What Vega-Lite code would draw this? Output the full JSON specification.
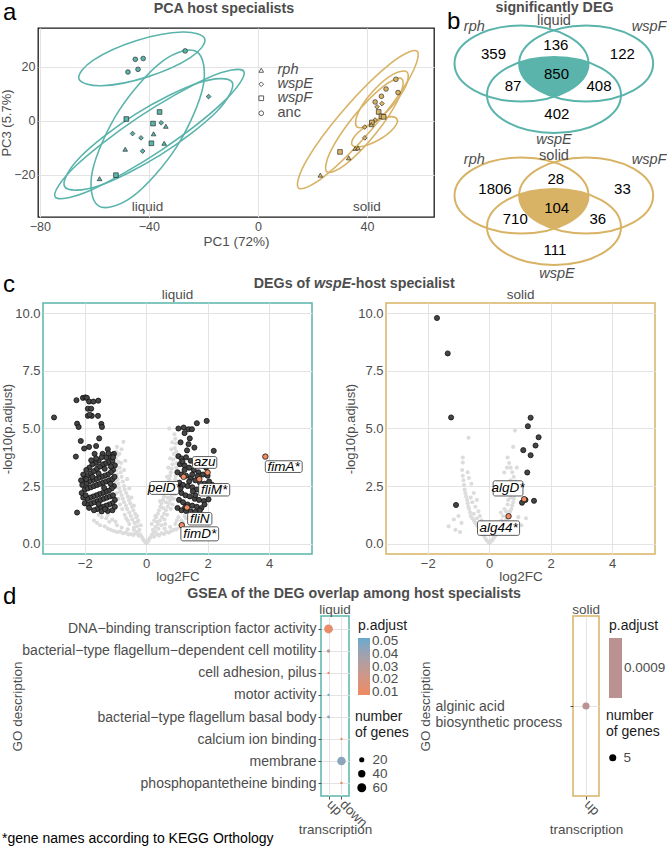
{
"$schema": "https://vega.github.io/schema/vega-lite/v6.json",
"padding": 0,
"autosize": {"type": "pad"},
"background": "white",
"config": {
 "font": "Liberation Sans",
 "view": {"stroke": null},
 "axis": {"labelColor": "#4d4d4d", "titleColor": "#4d4d4d", "labelFontSize": 12.5, "titleFontSize": 13.5, "titleFontWeight": "normal", "gridColor": "#e3e3e3", "gridWidth": 1, "domain": false, "ticks": false, "labelPadding": 3, "titlePadding": 4, "labelFlush": false, "labelOverlap": false},
 "legend": {"titleFontWeight": "normal", "titleFontSize": 14, "titleColor": "#1a1a1a", "labelFontSize": 13.5, "labelColor": "#4d4d4d", "labelOverlap": false},
 "title": {"fontSize": 14.25, "fontWeight": "bold", "color": "#4d4d4d"}
},
"datasets": {
 "pca": [
  {"medium":"liquid","group":"anc","PC1":-47.7,"PC3":18.1},{"medium":"liquid","group":"anc","PC1":-45.0,"PC3":22.8},{"medium":"liquid","group":"anc","PC1":-42.1,"PC3":23.1},{"medium":"liquid","group":"anc","PC1":-44.0,"PC3":19.1},{"medium":"liquid","group":"anc","PC1":-26.7,"PC3":25.9},
  {"medium":"liquid","group":"wspE","PC1":-18.1,"PC3":9.0},{"medium":"liquid","group":"wspE","PC1":-35.5,"PC3":-0.7},{"medium":"liquid","group":"wspE","PC1":-46.0,"PC3":-4.7},{"medium":"liquid","group":"wspE","PC1":-42.9,"PC3":-6.3},{"medium":"liquid","group":"wspE","PC1":-42.3,"PC3":-11.2},
  {"medium":"liquid","group":"wspF","PC1":-48.3,"PC3":0.7},{"medium":"liquid","group":"wspF","PC1":-36.1,"PC3":3.3},{"medium":"liquid","group":"wspF","PC1":-38.5,"PC3":-1.0},{"medium":"liquid","group":"wspF","PC1":-39.1,"PC3":-8.3},{"medium":"liquid","group":"wspF","PC1":-52.1,"PC3":-20.1},
  {"medium":"liquid","group":"rph","PC1":-38.3,"PC3":-4.8},{"medium":"liquid","group":"rph","PC1":-33.8,"PC3":-2.0},{"medium":"liquid","group":"rph","PC1":-34.4,"PC3":-8.3},{"medium":"liquid","group":"rph","PC1":-48.7,"PC3":-10.5},{"medium":"liquid","group":"rph","PC1":-58.1,"PC3":-21.4},
  {"medium":"solid","group":"anc","PC1":50.6,"PC3":15.4},{"medium":"solid","group":"anc","PC1":51.4,"PC3":10.5},{"medium":"solid","group":"anc","PC1":45.3,"PC3":9.1},{"medium":"solid","group":"anc","PC1":47.0,"PC3":11.8},{"medium":"solid","group":"anc","PC1":43.0,"PC3":7.0},
  {"medium":"solid","group":"wspE","PC1":45.5,"PC3":6.4},{"medium":"solid","group":"wspE","PC1":43.7,"PC3":5.2},{"medium":"solid","group":"wspE","PC1":43.0,"PC3":0.3},{"medium":"solid","group":"wspE","PC1":39.2,"PC3":-2.3},{"medium":"solid","group":"wspE","PC1":39.2,"PC3":-6.3},
  {"medium":"solid","group":"wspF","PC1":44.3,"PC3":3.3},{"medium":"solid","group":"wspF","PC1":45.3,"PC3":1.7},{"medium":"solid","group":"wspF","PC1":46.1,"PC3":1.5},{"medium":"solid","group":"wspF","PC1":41.8,"PC3":-0.6},{"medium":"solid","group":"wspF","PC1":30.1,"PC3":-11.5},
  {"medium":"solid","group":"rph","PC1":22.9,"PC3":-20.1},{"medium":"solid","group":"rph","PC1":33.3,"PC3":-13.7},{"medium":"solid","group":"rph","PC1":35.7,"PC3":-10.2},{"medium":"solid","group":"rph","PC1":36.7,"PC3":-10.0},{"medium":"solid","group":"rph","PC1":41.6,"PC3":-1.4}
 ],
 "pcaell": [
  {"medium":"liquid","e":"A","i":0,"x":-19.5,"y":30.3},{"medium":"liquid","e":"A","i":1,"x":-24.8,"y":23.4},{"medium":"liquid","e":"A","i":2,"x":-40.5,"y":16.3},{"medium":"liquid","e":"A","i":3,"x":-57.4,"y":13.0},{"medium":"liquid","e":"A","i":4,"x":-65.7,"y":15.6},{"medium":"liquid","e":"A","i":5,"x":-60.4,"y":22.5},{"medium":"liquid","e":"A","i":6,"x":-44.7,"y":29.7},{"medium":"liquid","e":"A","i":7,"x":-27.7,"y":32.9},
  {"medium":"liquid","e":"B","i":0,"x":-22.4,"y":25.6},{"medium":"liquid","e":"B","i":1,"x":-20.2,"y":12.4},{"medium":"liquid","e":"B","i":2,"x":-29.9,"y":-9.7},{"medium":"liquid","e":"B","i":3,"x":-45.8,"y":-27.9},{"medium":"liquid","e":"B","i":4,"x":-58.5,"y":-31.5},{"medium":"liquid","e":"B","i":5,"x":-60.7,"y":-18.4},{"medium":"liquid","e":"B","i":6,"x":-51.0,"y":3.8},{"medium":"liquid","e":"B","i":7,"x":-35.1,"y":22.0},
  {"medium":"liquid","e":"C1","i":0,"x":-5.2,"y":18.4},{"medium":"liquid","e":"C1","i":1,"x":-12.5,"y":7.2},{"medium":"liquid","e":"C1","i":2,"x":-35.7,"y":-11.0},{"medium":"liquid","e":"C1","i":3,"x":-61.4,"y":-25.7},{"medium":"liquid","e":"C1","i":4,"x":-74.4,"y":-28.2},{"medium":"liquid","e":"C1","i":5,"x":-67.2,"y":-17.0},{"medium":"liquid","e":"C1","i":6,"x":-43.9,"y":1.3},{"medium":"liquid","e":"C1","i":7,"x":-18.2,"y":16.0},
  {"medium":"liquid","e":"C2","i":0,"x":-9.5,"y":14.4},{"medium":"liquid","e":"C2","i":1,"x":-15.2,"y":3.4},{"medium":"liquid","e":"C2","i":2,"x":-35.6,"y":-12.5},{"medium":"liquid","e":"C2","i":3,"x":-58.6,"y":-24.1},{"medium":"liquid","e":"C2","i":4,"x":-70.9,"y":-24.4},{"medium":"liquid","e":"C2","i":5,"x":-65.2,"y":-13.4},{"medium":"liquid","e":"C2","i":6,"x":-44.9,"y":2.5},{"medium":"liquid","e":"C2","i":7,"x":-21.8,"y":14.1},
  {"medium":"solid","e":"G1","i":0,"x":58.4,"y":25.8},{"medium":"solid","e":"G1","i":1,"x":55.4,"y":15.5},{"medium":"solid","e":"G1","i":2,"x":41.4,"y":-3.6},{"medium":"solid","e":"G1","i":3,"x":24.6,"y":-20.4},{"medium":"solid","e":"G1","i":4,"x":14.9,"y":-24.9},{"medium":"solid","e":"G1","i":5,"x":17.9,"y":-14.5},{"medium":"solid","e":"G1","i":6,"x":31.9,"y":4.6},{"medium":"solid","e":"G1","i":7,"x":48.7,"y":21.3},
  {"medium":"solid","e":"G2","i":0,"x":52.8,"y":15.6},{"medium":"solid","e":"G2","i":1,"x":51.6,"y":8.2},{"medium":"solid","e":"G2","i":2,"x":43.1,"y":-4.9},{"medium":"solid","e":"G2","i":3,"x":32.2,"y":-16.1},{"medium":"solid","e":"G2","i":4,"x":25.3,"y":-18.9},{"medium":"solid","e":"G2","i":5,"x":26.5,"y":-11.6},{"medium":"solid","e":"G2","i":6,"x":35.1,"y":1.6},{"medium":"solid","e":"G2","i":7,"x":46.0,"y":12.8},
  {"medium":"solid","e":"G3","i":0,"x":51.0,"y":0.7},{"medium":"solid","e":"G3","i":1,"x":49.8,"y":-2.7},{"medium":"solid","e":"G3","i":2,"x":44.4,"y":-7.0},{"medium":"solid","e":"G3","i":3,"x":38.1,"y":-9.5},{"medium":"solid","e":"G3","i":4,"x":34.5,"y":-8.9},{"medium":"solid","e":"G3","i":5,"x":35.7,"y":-5.4},{"medium":"solid","e":"G3","i":6,"x":41.1,"y":-1.2},{"medium":"solid","e":"G3","i":7,"x":47.4,"y":1.4},
  {"medium":"solid","e":"G4","i":0,"x":54.7,"y":18.1},{"medium":"solid","e":"G4","i":1,"x":54.3,"y":13.0},{"medium":"solid","e":"G4","i":2,"x":48.8,"y":5.0},{"medium":"solid","e":"G4","i":3,"x":41.3,"y":-1.3},{"medium":"solid","e":"G4","i":4,"x":36.3,"y":-2.2},{"medium":"solid","e":"G4","i":5,"x":36.7,"y":2.9},{"medium":"solid","e":"G4","i":6,"x":42.2,"y":11.0},{"medium":"solid","e":"G4","i":7,"x":49.7,"y":17.3}
 ],
 "pcatext": [{"t":"liquid","x":-40.5,"y":-31.8},{"t":"solid","x":40,"y":-31.8}],
 "vennsets": [
  {"venn":"liquid","set":"rph","x":-0.485,"y":0},{"venn":"liquid","set":"wspF","x":0.48,"y":0},{"venn":"liquid","set":"wspE","x":0,"y":-0.47},
  {"venn":"solid","set":"rph","x":-0.485,"y":-1.97},{"venn":"solid","set":"wspF","x":0.48,"y":-1.97},{"venn":"solid","set":"wspE","x":0,"y":-2.44}
 ],
 "vennfill": [{"venn":"liquid","x":0,"y":-0.47},{"venn":"solid","x":0,"y":-2.44}],
 "venncounts": [
  {"n":"359","x":-0.903,"y":0.142},{"n":"136","x":0.027,"y":0.269},{"n":"122","x":1.02,"y":0.142},{"n":"850","x":0.037,"y":-0.157},{"n":"87","x":-0.612,"y":-0.336},{"n":"408","x":0.672,"y":-0.336},{"n":"402","x":0.042,"y":-0.754},
  {"n":"1806","x":-0.881,"y":-1.869},{"n":"28","x":0.027,"y":-1.719},{"n":"33","x":1.022,"y":-1.869},{"n":"104","x":0.04,"y":-2.154},{"n":"710","x":-0.578,"y":-2.328},{"n":"36","x":0.654,"y":-2.328},{"n":"111","x":0.015,"y":-2.776}
 ],
 "vennsetnames": [
  {"t":"rph","x":-1.19,"y":0.545},{"t":"wspF","x":1.42,"y":0.545},{"t":"wspE","x":0,"y":-1.142},
  {"t":"rph","x":-1.19,"y":-1.44},{"t":"wspF","x":1.42,"y":-1.44},{"t":"wspE","x":0.045,"y":-3.137}
 ],
 "vennmedia": [{"t":"liquid","x":0,"y":0.634},{"t":"solid","x":0,"y":-1.381}],
 "lgrey": [
  {"x":0,"y":0.02},{"x":0.03,"y":0.06},{"x":-0.04,"y":0.08},{"x":0.07,"y":0.12},{"x":-0.08,"y":0.15},{"x":0.1,"y":0.2},{"x":-0.12,"y":0.24},{"x":0.14,"y":0.28},{"x":-0.16,"y":0.32},{"x":0.18,"y":0.36},{"x":-0.2,"y":0.4},{"x":0.22,"y":0.44},{"x":-0.25,"y":0.35},{"x":0.26,"y":0.3},{"x":-0.3,"y":0.5},{"x":0.3,"y":0.52},{"x":-0.35,"y":0.45},{"x":0.36,"y":0.4},{"x":-0.42,"y":0.38},{"x":0.42,"y":0.35},{"x":-0.5,"y":0.42},{"x":0.5,"y":0.45},{"x":-0.58,"y":0.4},{"x":0.58,"y":0.42},{"x":-0.66,"y":0.48},{"x":0.66,"y":0.5},{"x":-0.75,"y":0.45},{"x":0.74,"y":0.48},{"x":-0.85,"y":0.52},{"x":0.82,"y":0.55},{"x":-0.95,"y":0.5},{"x":0.9,"y":0.6},{"x":-1.05,"y":0.55},{"x":0.98,"y":0.62},{"x":-1.15,"y":0.6},{"x":1.08,"y":0.7},{"x":-1.25,"y":0.65},{"x":-1.35,"y":0.75},{"x":-1.5,"y":0.8},{"x":-1.6,"y":0.9},{"x":-1.2,"y":0.95},{"x":-1.1,"y":1.05},{"x":1.15,"y":1.0},{"x":1.2,"y":0.9},{"x":-1.3,"y":1.1},{"x":-1.45,"y":1.15},{"x":1.05,"y":1.15},{"x":-0.4,"y":0.6},{"x":0.4,"y":0.65},{"x":-0.6,"y":0.62},{"x":0.6,"y":0.65},{"x":-0.8,"y":0.7},{"x":0.78,"y":0.72},{"x":-0.95,"y":0.8},{"x":0.95,"y":0.85},{"x":-1.0,"y":0.95},{"x":1.0,"y":1.0},{"x":1.1,"y":0.8},{"x":1.25,"y":1.2},{"x":-1.7,"y":1.0},{"x":-1.55,"y":1.25},{"x":-1.25,"y":1.25},{"x":1.3,"y":1.1},
  {"x":-0.22,"y":0.6},{"x":-0.3,"y":0.75},{"x":-0.18,"y":0.8},{"x":-0.38,"y":0.9},{"x":-0.26,"y":1.0},{"x":-0.45,"y":1.05},{"x":-0.32,"y":1.15},{"x":-0.5,"y":1.2},{"x":-0.36,"y":1.3},{"x":-0.55,"y":1.35},{"x":-0.42,"y":1.45},{"x":-0.62,"y":1.5},{"x":-0.46,"y":1.6},{"x":-0.66,"y":1.65},{"x":-0.52,"y":1.75},{"x":-0.72,"y":1.8},{"x":-0.56,"y":1.9},{"x":-0.76,"y":1.95},{"x":-0.6,"y":2.05},{"x":-0.8,"y":2.1},{"x":-0.65,"y":2.2},{"x":-0.84,"y":2.25},{"x":-0.7,"y":2.35},{"x":-0.88,"y":2.4},{"x":-0.72,"y":2.5},{"x":-0.9,"y":2.6},{"x":-0.76,"y":2.7},{"x":-0.93,"y":2.8},{"x":-0.8,"y":2.9},{"x":-0.95,"y":3.0},{"x":-0.83,"y":3.1},{"x":-0.97,"y":3.2},{"x":-0.86,"y":3.3},{"x":-0.98,"y":3.45},{"x":-0.9,"y":3.55},{"x":-0.99,"y":3.7},{"x":-0.92,"y":3.85},{"x":-0.98,"y":4.0},{"x":-0.95,"y":4.2},{"x":-0.6,"y":1.0},{"x":-0.7,"y":1.25},{"x":-0.78,"y":1.5},{"x":-0.85,"y":1.7},{"x":-0.9,"y":1.95},{"x":-0.95,"y":2.2},{"x":-0.98,"y":2.45},{"x":-0.99,"y":2.7},{"x":-0.4,"y":0.7},{"x":-0.55,"y":0.85},{"x":-0.65,"y":1.1},{"x":-0.3,"y":1.2},{"x":-0.28,"y":0.95},{"x":-0.74,"y":4.42},{"x":-0.8,"y":4.1},{"x":-0.68,"y":3.6},{"x":-0.72,"y":3.2},{"x":-0.62,"y":2.8},{"x":-0.55,"y":2.4},{"x":-0.48,"y":2.0},{"x":-0.4,"y":1.65},{"x":-0.87,"y":3.9},{"x":-0.82,"y":3.5},
  {"x":0.22,"y":0.6},{"x":0.3,"y":0.72},{"x":0.18,"y":0.85},{"x":0.38,"y":0.85},{"x":0.26,"y":1.0},{"x":0.45,"y":1.0},{"x":0.32,"y":1.15},{"x":0.52,"y":1.15},{"x":0.38,"y":1.3},{"x":0.58,"y":1.3},{"x":0.42,"y":1.45},{"x":0.64,"y":1.45},{"x":0.46,"y":1.6},{"x":0.7,"y":1.6},{"x":0.5,"y":1.75},{"x":0.74,"y":1.75},{"x":0.55,"y":1.9},{"x":0.78,"y":1.9},{"x":0.58,"y":2.05},{"x":0.82,"y":2.05},{"x":0.62,"y":2.2},{"x":0.85,"y":2.2},{"x":0.66,"y":2.35},{"x":0.88,"y":2.35},{"x":0.7,"y":2.5},{"x":0.9,"y":2.5},{"x":0.72,"y":2.65},{"x":0.93,"y":2.65},{"x":0.75,"y":2.8},{"x":0.95,"y":2.8},{"x":0.78,"y":2.95},{"x":0.96,"y":2.95},{"x":0.8,"y":3.1},{"x":0.97,"y":3.1},{"x":0.83,"y":3.25},{"x":0.98,"y":3.3},{"x":0.86,"y":3.45},{"x":0.99,"y":3.5},{"x":0.88,"y":3.65},{"x":0.99,"y":3.75},{"x":0.9,"y":3.9},{"x":0.98,"y":4.0},{"x":0.93,"y":4.15},{"x":0.97,"y":4.35},{"x":0.95,"y":4.55},{"x":0.75,"y":5.0},{"x":0.92,"y":4.75},{"x":0.6,"y":1.05},{"x":0.68,"y":1.25},{"x":0.8,"y":1.5},{"x":0.86,"y":1.7},{"x":0.9,"y":1.95},{"x":0.94,"y":2.15},{"x":0.97,"y":2.4},{"x":0.35,"y":0.95},{"x":0.5,"y":0.8},{"x":0.62,"y":0.85},{"x":0.3,"y":1.2},{"x":0.55,"y":1.55},{"x":0.65,"y":1.8},{"x":0.7,"y":2.0},{"x":0.75,"y":2.25},{"x":0.8,"y":2.6},{"x":0.68,"y":2.9},{"x":0.72,"y":3.3},{"x":0.78,"y":3.7},{"x":0.82,"y":4.1},{"x":0.85,"y":4.4},{"x":0.6,"y":2.6},{"x":0.52,"y":2.2},{"x":0.45,"y":1.85}
 ],
 "lsig": [
  {"x":-3.0,"y":5.48},{"x":-2.27,"y":6.23},{"x":-2.06,"y":6.33},{"x":-1.98,"y":6.35},{"x":-1.93,"y":6.33},{"x":-1.86,"y":6.17},{"x":-1.72,"y":6.17},{"x":-1.56,"y":6.21},{"x":-1.9,"y":5.86},{"x":-1.79,"y":5.86},{"x":-1.9,"y":5.55},{"x":-1.77,"y":5.55},{"x":-1.57,"y":5.55},{"x":-1.84,"y":5.6},{"x":-1.46,"y":5.2},{"x":-1.44,"y":5.07},{"x":-2.25,"y":5.21},{"x":-2.2,"y":5.07},{"x":-2.13,"y":4.46},{"x":-1.86,"y":4.2},{"x":-2.02,"y":4.13},{"x":-1.53,"y":4.57},{"x":-2.29,"y":3.78},{"x":-1.63,"y":4.24},
  {"x":-1.05,"y":3.9},{"x":-1.12,"y":3.85},{"x":-1.2,"y":3.8},{"x":-1.3,"y":3.75},{"x":-1.42,"y":3.9},{"x":-1.55,"y":3.6},{"x":-1.65,"y":3.5},{"x":-1.75,"y":3.45},{"x":-1.85,"y":3.3},{"x":-1.95,"y":3.2},{"x":-2.05,"y":3.0},{"x":-2.0,"y":2.8},{"x":-1.9,"y":2.95},{"x":-1.8,"y":3.05},{"x":-1.7,"y":3.15},{"x":-1.6,"y":3.25},{"x":-1.5,"y":3.35},{"x":-1.4,"y":3.45},{"x":-1.3,"y":3.5},{"x":-1.2,"y":3.55},{"x":-1.1,"y":3.6},{"x":-1.02,"y":3.4},{"x":-1.08,"y":3.2},{"x":-1.15,"y":3.1},{"x":-1.25,"y":3.0},{"x":-1.35,"y":2.95},{"x":-1.45,"y":2.9},{"x":-1.55,"y":2.85},{"x":-1.65,"y":2.8},{"x":-1.75,"y":2.75},{"x":-1.85,"y":2.7},{"x":-1.95,"y":2.6},{"x":-2.08,"y":2.55},{"x":-2.0,"y":2.35},{"x":-1.9,"y":2.4},{"x":-1.8,"y":2.45},{"x":-1.7,"y":2.5},{"x":-1.6,"y":2.55},{"x":-1.5,"y":2.6},{"x":-1.4,"y":2.65},{"x":-1.3,"y":2.7},{"x":-1.2,"y":2.75},{"x":-1.1,"y":2.8},{"x":-1.03,"y":2.9},{"x":-1.05,"y":2.5},{"x":-1.12,"y":2.4},{"x":-1.22,"y":2.3},{"x":-1.32,"y":2.25},{"x":-1.42,"y":2.2},{"x":-1.52,"y":2.15},{"x":-1.62,"y":2.1},{"x":-1.72,"y":2.05},{"x":-1.82,"y":2.0},{"x":-1.92,"y":1.95},{"x":-2.05,"y":2.0},{"x":-2.0,"y":1.75},{"x":-1.88,"y":1.7},{"x":-1.78,"y":1.75},{"x":-1.68,"y":1.8},{"x":-1.58,"y":1.85},{"x":-1.48,"y":1.9},{"x":-1.38,"y":1.95},{"x":-1.28,"y":2.0},{"x":-1.18,"y":2.05},{"x":-1.08,"y":2.1},{"x":-1.02,"y":1.9},{"x":-1.1,"y":1.75},{"x":-1.2,"y":1.7},{"x":-1.3,"y":1.65},{"x":-1.4,"y":1.6},{"x":-1.5,"y":1.55},{"x":-1.6,"y":1.5},{"x":-1.7,"y":1.45},{"x":-1.45,"y":1.4},{"x":-1.25,"y":1.42},{"x":-1.1,"y":1.45},{"x":-1.02,"y":1.6},{"x":-2.25,"y":1.35},{"x":-1.35,"y":3.25},{"x":-1.55,"y":3.05},{"x":-1.75,"y":2.9},{"x":-1.95,"y":2.8},{"x":-1.15,"y":3.35},{"x":-2.1,"y":2.2},{"x":-1.08,"y":3.75},{"x":-1.25,"y":4.1},{"x":-1.45,"y":3.75},{"x":-1.68,"y":3.9},{"x":-1.97,"y":2.1},{"x":-1.63,"y":3.7},{"x":-1.37,"y":2.42},{"x":-1.86,"y":1.55},{"x":-2.12,"y":2.75},{"x":-1.23,"y":3.92},{"x":-1.55,"y":1.72},{"x":-1.79,"y":3.62},{"x":-1.16,"y":2.6},{"x":-1.34,"y":1.5},
  {"x":1.65,"y":5.23},{"x":1.97,"y":5.33},{"x":1.22,"y":5.04},{"x":1.38,"y":4.97},{"x":1.49,"y":4.97},{"x":1.25,"y":4.8},{"x":1.42,"y":4.57},{"x":1.38,"y":4.32},{"x":1.57,"y":4.17},{"x":2.2,"y":4.03},{"x":1.05,"y":5.0},{"x":1.12,"y":4.4},
  {"x":1.05,"y":3.8},{"x":1.15,"y":3.7},{"x":1.3,"y":3.75},{"x":1.45,"y":3.6},{"x":1.6,"y":3.5},{"x":1.8,"y":3.4},{"x":1.95,"y":3.3},{"x":1.1,"y":3.45},{"x":1.25,"y":3.4},{"x":1.4,"y":3.3},{"x":1.55,"y":3.2},{"x":1.7,"y":3.1},{"x":1.85,"y":3.0},{"x":2.0,"y":2.95},{"x":1.02,"y":3.1},{"x":1.15,"y":3.0},{"x":1.3,"y":2.95},{"x":1.45,"y":2.85},{"x":1.6,"y":2.75},{"x":1.75,"y":2.65},{"x":1.9,"y":2.6},{"x":2.05,"y":2.7},{"x":1.08,"y":2.65},{"x":1.2,"y":2.55},{"x":1.35,"y":2.5},{"x":1.5,"y":2.45},{"x":1.65,"y":2.35},{"x":1.8,"y":2.25},{"x":1.95,"y":2.2},{"x":2.15,"y":2.55},{"x":1.03,"y":2.3},{"x":1.15,"y":2.2},{"x":1.28,"y":2.1},{"x":1.42,"y":2.05},{"x":1.58,"y":1.95},{"x":1.72,"y":1.9},{"x":1.88,"y":1.85},{"x":2.03,"y":1.92},{"x":1.07,"y":1.9},{"x":1.2,"y":1.8},{"x":1.35,"y":1.7},{"x":1.5,"y":1.65},{"x":1.65,"y":1.6},{"x":1.8,"y":1.55},{"x":1.02,"y":1.55},{"x":1.15,"y":1.45},{"x":1.3,"y":1.42},{"x":1.45,"y":1.4},{"x":1.6,"y":1.38},{"x":1.75,"y":1.45},{"x":1.25,"y":3.2},{"x":1.5,"y":3.0},{"x":1.4,"y":2.7},{"x":1.6,"y":2.1},{"x":1.12,"y":2.4},{"x":1.9,"y":1.7},{"x":1.33,"y":4.05},{"x":1.18,"y":3.57},{"x":1.68,"y":2.93},{"x":1.52,"y":2.27},{"x":1.27,"y":1.58}
 ],
 "lhit": [{"g":"fimA*","x":3.88,"y":3.78},{"g":"azu","x":2.0,"y":3.09},{"g":"fliM*","x":1.73,"y":2.8},{"g":"pelD*","x":1.22,"y":2.9},{"g":"fliN","x":1.33,"y":1.57},{"g":"fimD*","x":1.16,"y":0.8}],
 "llab": [
  {"g":"azu","x1":1.51,"x2":2.30,"y1":3.27,"y2":3.78,"cx":1.905,"cy":3.525},
  {"g":"fimA*","x1":3.88,"x2":5.08,"y1":3.09,"y2":3.6,"cx":4.48,"cy":3.345},
  {"g":"pelD*","x1":0.12,"x2":1.06,"y1":2.14,"y2":2.7,"cx":0.59,"cy":2.42},
  {"g":"fliM*","x1":1.71,"x2":2.72,"y1":2.07,"y2":2.61,"cx":2.215,"cy":2.34},
  {"g":"fliN","x1":1.35,"x2":2.14,"y1":0.81,"y2":1.35,"cx":1.745,"cy":1.08},
  {"g":"fimD*","x1":1.13,"x2":2.36,"y1":0.12,"y2":0.73,"cx":1.745,"cy":0.425}
 ],
 "sgrey": [
  {"x":0,"y":0.03},{"x":0.05,"y":0.08},{"x":-0.05,"y":0.1},{"x":0.1,"y":0.15},{"x":-0.1,"y":0.18},{"x":0.15,"y":0.25},{"x":-0.15,"y":0.3},{"x":0.2,"y":0.35},{"x":-0.2,"y":0.4},{"x":0.25,"y":0.45},{"x":-0.25,"y":0.5},{"x":0.3,"y":0.55},{"x":-0.3,"y":0.6},{"x":0.35,"y":0.62},{"x":-0.35,"y":0.7},{"x":0.4,"y":0.72},{"x":-0.4,"y":0.8},{"x":0.45,"y":0.85},{"x":-0.45,"y":0.9},{"x":0.5,"y":0.95},{"x":-0.5,"y":1.0},{"x":0.55,"y":1.05},{"x":-0.55,"y":1.1},{"x":0.6,"y":1.15},{"x":-0.6,"y":1.2},{"x":0.65,"y":1.25},{"x":-0.62,"y":1.35},{"x":0.68,"y":1.4},{"x":-0.65,"y":1.5},{"x":0.72,"y":1.5},{"x":-0.68,"y":1.6},{"x":0.75,"y":1.65},{"x":-0.7,"y":1.75},{"x":0.78,"y":1.8},{"x":-0.72,"y":1.9},{"x":0.8,"y":1.95},{"x":-0.75,"y":2.05},{"x":0.82,"y":2.1},{"x":-0.78,"y":2.2},{"x":0.85,"y":2.25},{"x":-0.8,"y":2.35},{"x":0.88,"y":2.4},{"x":-0.82,"y":2.55},{"x":0.9,"y":2.55},{"x":-0.84,"y":2.75},{"x":0.86,"y":2.7},{"x":-0.86,"y":2.95},{"x":0.8,"y":2.9},{"x":-0.88,"y":3.2},{"x":0.75,"y":3.1},{"x":-0.86,"y":3.52},{"x":0.7,"y":3.3},{"x":-0.86,"y":3.74},{"x":0.6,"y":3.74},{"x":-0.67,"y":4.6},{"x":0.84,"y":4.91},{"x":0.49,"y":3.09},{"x":0.65,"y":3.5},{"x":0.78,"y":4.2},{"x":0.9,"y":3.3},
  {"x":-0.3,"y":0.9},{"x":-0.4,"y":1.1},{"x":-0.5,"y":1.3},{"x":-0.35,"y":1.4},{"x":-0.45,"y":1.6},{"x":-0.55,"y":1.8},{"x":-0.4,"y":1.9},{"x":-0.6,"y":2.0},{"x":-0.5,"y":2.2},{"x":-0.3,"y":1.2},{"x":-0.2,"y":0.7},{"x":-0.15,"y":0.5},{"x":0.15,"y":0.45},{"x":0.25,"y":0.7},{"x":0.35,"y":0.9},{"x":0.45,"y":1.2},{"x":0.55,"y":1.4},{"x":0.6,"y":1.7},{"x":0.7,"y":2.0},{"x":0.75,"y":2.3},{"x":0.65,"y":2.45},{"x":0.8,"y":2.6},{"x":0.4,"y":1.0},{"x":0.3,"y":0.8},{"x":0.5,"y":1.5},{"x":0.62,"y":1.9},
  {"x":-1.32,"y":0.75},{"x":-1.1,"y":0.6},{"x":-0.95,"y":0.5},{"x":-0.9,"y":0.9},{"x":1.05,"y":0.8},{"x":1.2,"y":1.1},{"x":-1.0,"y":1.2},{"x":0.95,"y":1.15},{"x":-1.15,"y":1.05},{"x":-0.58,"y":2.6},{"x":-0.66,"y":2.85},{"x":-0.7,"y":3.1},{"x":0.56,"y":2.15},{"x":0.7,"y":2.75},{"x":0.58,"y":3.3},{"x":-0.25,"y":1.0},{"x":0.2,"y":0.9},{"x":0.38,"y":1.35}
 ],
 "ssig": [{"x":-1.7,"y":9.8},{"x":-1.35,"y":8.26},{"x":-1.24,"y":5.48},{"x":1.35,"y":5.47},{"x":1.26,"y":5.1},{"x":1.61,"y":4.62},{"x":1.51,"y":4.26},{"x":1.11,"y":4.06},{"x":1.35,"y":3.84},{"x":1.24,"y":3.09},{"x":1.46,"y":1.86},{"x":1.07,"y":1.78},{"x":1.18,"y":1.9},{"x":-1.08,"y":1.68}],
 "shit": [{"g":"alg44*","x":0.63,"y":1.19},{"g":"algD*","x":1.14,"y":1.93}],
 "slab": [
  {"g":"algD*","x1":0.13,"x2":1.10,"y1":2.07,"y2":2.73,"cx":0.615,"cy":2.4},
  {"g":"alg44*","x1":-0.38,"x2":0.99,"y1":0.36,"y2":0.99,"cx":0.305,"cy":0.675}
 ],
 "gseaL": [
  {"term":"DNA−binding transcription factor activity","dir":"up","p":0.011,"n":58},
  {"term":"bacterial−type flagellum−dependent cell motility","dir":"up","p":0.03,"n":9},
  {"term":"cell adhesion, pilus","dir":"up","p":0.009,"n":4},
  {"term":"motor activity","dir":"up","p":0.052,"n":4},
  {"term":"bacterial−type flagellum basal body","dir":"up","p":0.046,"n":6},
  {"term":"calcium ion binding","dir":"down","p":0.009,"n":4},
  {"term":"membrane","dir":"down","p":0.045,"n":55},
  {"term":"phosphopantetheine binding","dir":"down","p":0.012,"n":5}
 ],
 "gseaS": [{"term":"alginic acid biosynthetic process","dir":"up","p":0.0009,"n":5}]
},
"spacing": -40,
"resolve": {"scale": {"x": "independent", "y": "independent", "color": "independent", "fill": "independent", "stroke": "independent", "size": "independent", "shape": "independent"}},
"vconcat": [
 {
  "bounds": "flush",
  "spacing": 0,
  "resolve": {"scale": {"x": "independent", "y": "independent", "color": "independent", "fill": "independent", "stroke": "independent", "size": "independent", "shape": "independent"}},
  "hconcat": [
   {"width": 36, "height": 275, "data": {"values": []}, "mark": "point", "encoding": {},
    "title": {"text": "a", "anchor": "start", "fontSize": 24, "fontWeight": "normal", "color": "black", "dx": 1, "offset": 3}},
   {
    "width": 396, "height": 189,
    "title": {"text": "PCA host specialists", "offset": 12, "dx": -12},
    "view": {"stroke": "#1a1a1a", "strokeWidth": 1.3},
    "resolve": {"scale": {"shape": "independent"}},
    "layer": [
     {
      "data": {"name": "pcaell"},
      "mark": {"type": "line", "interpolate": "cardinal-closed", "strokeWidth": 1.6},
      "encoding": {
       "x": {"field": "x", "type": "quantitative", "scale": {"domain": [-80.7, 64.6], "nice": false, "zero": false}, "axis": {"values": [-80, -40, 0, 40], "title": "PC1 (72%)", "grid": true, "titlePadding": 2}},
       "y": {"field": "y", "type": "quantitative", "scale": {"domain": [-35.6, 34.4], "nice": false, "zero": false}, "axis": {"values": [-20, 0, 20], "title": "PC3 (5.7%)", "grid": true, "titlePadding": 0, "titleFontSize": 13}},
       "detail": {"field": "e", "type": "nominal"},
       "order": {"field": "i", "type": "quantitative"},
       "color": {"field": "medium", "type": "nominal", "scale": {"domain": ["liquid", "solid"], "range": ["#5ab4ac", "#d8b365"]}, "legend": null}
      }
     },
     {
      "data": {"name": "pca"},
      "transform": [{"filter": "datum.group !== 'anc'"}],
      "mark": {"type": "point", "filled": true, "size": 22, "stroke": "#1a1a1a", "strokeWidth": 0.6, "opacity": 1},
      "encoding": {
       "x": {"field": "PC1", "type": "quantitative"},
       "y": {"field": "PC3", "type": "quantitative"},
       "fill": {"field": "medium", "type": "nominal", "scale": {"domain": ["liquid", "solid"], "range": ["#5ab4ac", "#d8b365"]}, "legend": null},
       "shape": {"field": "group", "type": "nominal", "scale": {"domain": ["rph", "wspE", "wspF"], "range": ["triangle-up", "diamond", "square"]},
        "legend": {"title": null, "orient": "none", "legendX": 216, "legendY": 35, "symbolFillColor": "transparent", "symbolStrokeColor": "#4d4d4d", "symbolStrokeWidth": 0.9, "symbolSize": 22, "labelFontSize": 14.5, "labelFontStyle": "italic", "labelColor": "#4d4d4d", "rowPadding": -1, "labelOffset": 9}}
      }
     },
     {
      "data": {"name": "pca"},
      "transform": [{"filter": "datum.group === 'anc'"}],
      "mark": {"type": "point", "filled": true, "size": 22, "stroke": "#1a1a1a", "strokeWidth": 0.6, "opacity": 1},
      "encoding": {
       "x": {"field": "PC1", "type": "quantitative"},
       "y": {"field": "PC3", "type": "quantitative"},
       "fill": {"field": "medium", "type": "nominal", "scale": {"domain": ["liquid", "solid"], "range": ["#5ab4ac", "#d8b365"]}, "legend": null},
       "shape": {"field": "group", "type": "nominal", "scale": {"domain": ["anc"], "range": ["circle"]},
        "legend": {"title": null, "orient": "none", "legendX": 216, "legendY": 78, "symbolFillColor": "transparent", "symbolStrokeColor": "#4d4d4d", "symbolStrokeWidth": 0.9, "symbolSize": 22, "labelFontSize": 14.5, "labelColor": "#4d4d4d", "labelOffset": 9}}
      }
     },
     {
      "data": {"name": "pcatext"},
      "mark": {"type": "text", "fontSize": 13.5, "color": "#4d4d4d"},
      "encoding": {"x": {"field": "x", "type": "quantitative"}, "y": {"field": "y", "type": "quantitative"}, "text": {"field": "t"}}
     }
    ]
   },
   {"width": 8, "height": 189, "data": {"values": []}, "mark": "point", "encoding": {},
    "title": {"text": "b", "anchor": "start", "fontSize": 24, "fontWeight": "normal", "color": "black", "dx": 13, "offset": -6}},
   {
    "width": 225, "height": 240,
    "title": {"text": "significantly DEG", "offset": -2},
    "layer": [
     {
      "data": {"name": "vennfill"},
      "mark": {"type": "point", "shape": "M -0.52 -0.484 A 1 0.567 0 0 1 0.5145 -0.486 A 1 0.567 0 0 1 -0.0025 0.0266 A 1 0.567 0 0 1 -0.52 -0.484 Z", "size": 17956, "filled": true, "opacity": 1, "strokeWidth": 0},
      "encoding": {
       "x": {"field": "x", "type": "quantitative", "scale": {"domain": [-1.672, 1.687], "nice": false, "zero": false}, "axis": null},
       "y": {"field": "y", "type": "quantitative", "scale": {"domain": [-3.052, 0.53], "nice": false, "zero": false}, "axis": null},
       "fill": {"field": "venn", "type": "nominal", "scale": {"domain": ["liquid", "solid"], "range": ["#5ab4ac", "#d8b365"]}, "legend": null}
      }
     },
     {
      "data": {"name": "vennsets"},
      "mark": {"type": "point", "shape": "M -1 0 A 1 0.567 0 1 1 1 0 A 1 0.567 0 1 1 -1 0 Z", "size": 17956, "filled": false, "strokeWidth": 2, "opacity": 1},
      "encoding": {
       "x": {"field": "x", "type": "quantitative"},
       "y": {"field": "y", "type": "quantitative"},
       "stroke": {"field": "venn", "type": "nominal", "scale": {"domain": ["liquid", "solid"], "range": ["#5ab4ac", "#d8b365"]}, "legend": null}
      }
     },
     {
      "data": {"name": "venncounts"},
      "mark": {"type": "text", "fontSize": 15, "color": "black"},
      "encoding": {"x": {"field": "x", "type": "quantitative"}, "y": {"field": "y", "type": "quantitative"}, "text": {"field": "n"}}
     },
     {
      "data": {"name": "vennsetnames"},
      "mark": {"type": "text", "fontSize": 14.5, "fontStyle": "italic", "color": "#4d4d4d"},
      "encoding": {"x": {"field": "x", "type": "quantitative"}, "y": {"field": "y", "type": "quantitative"}, "text": {"field": "t"}}
     },
     {
      "data": {"name": "vennmedia"},
      "mark": {"type": "text", "fontSize": 14.5, "color": "#4d4d4d"},
      "encoding": {"x": {"field": "x", "type": "quantitative"}, "y": {"field": "y", "type": "quantitative"}, "text": {"field": "t"}}
     }
    ]
   }
  ]
 },
 {
  "bounds": "flush",
  "spacing": 0,
  "resolve": {"scale": {"x": "independent", "y": "independent"}},
  "hconcat": [
   {"width": 41, "height": 313, "data": {"values": []}, "mark": "point", "encoding": {},
    "title": {"text": "c", "anchor": "start", "fontSize": 24, "fontWeight": "normal", "color": "black", "dx": 1, "offset": 6}},
   {
    "width": 269, "height": 251,
    "title": {"text": "liquid", "fontWeight": "normal", "fontSize": 13.5, "offset": 2},
    "view": {"stroke": "#5ab4ac", "strokeWidth": 1.5},
    "layer": [
     {"data": {"name": "lgrey"}, "mark": {"type": "circle", "size": 17, "fill": "#dcdcdc", "opacity": 1},
      "encoding": {
       "x": {"field": "x", "type": "quantitative", "scale": {"domain": [-3.36, 5.4], "nice": false, "zero": false}, "axis": {"values": [-2, 0, 2, 4], "title": "log2FC", "grid": true, "labelFontSize": 13, "titlePadding": -1}},
       "y": {"field": "y", "type": "quantitative", "scale": {"domain": [-0.45, 10.45], "nice": false, "zero": false}, "axis": {"values": [0, 2.5, 5, 7.5, 10], "format": ".1f", "title": "-log10(p.adjust)", "grid": true, "labelFontSize": 13, "titlePadding": 0, "titleFontSize": 13}}
      }},
     {"data": {"name": "lsig"}, "mark": {"type": "circle", "size": 26, "fill": "#454545", "stroke": "#111111", "strokeWidth": 0.8, "opacity": 1},
      "encoding": {"x": {"field": "x", "type": "quantitative"}, "y": {"field": "y", "type": "quantitative"}}},
     {"mark": {"type": "rule", "color": "#67a9cf", "strokeWidth": 3, "strokeDash": [22, 11]}, "encoding": {"x": {"datum": -1}}},
     {"mark": {"type": "rule", "color": "#ef8a62", "strokeWidth": 3, "strokeDash": [22, 11]}, "encoding": {"x": {"datum": 1}}},
     {"mark": {"type": "rule", "color": "#808080", "strokeWidth": 3, "strokeDash": [20, 10]}, "encoding": {"y": {"datum": 1.30103}}},
     {"data": {"name": "lhit"}, "mark": {"type": "circle", "size": 30, "fill": "#ef8a62", "stroke": "#111111", "strokeWidth": 0.8, "opacity": 1},
      "encoding": {"x": {"field": "x", "type": "quantitative"}, "y": {"field": "y", "type": "quantitative"}}},
     {"data": {"name": "llab"}, "mark": {"type": "rect", "fill": "white", "stroke": "#333333", "strokeWidth": 0.8, "cornerRadius": 2},
      "encoding": {"x": {"field": "x1", "type": "quantitative"}, "x2": {"field": "x2"}, "y": {"field": "y1", "type": "quantitative"}, "y2": {"field": "y2"}}},
     {"data": {"name": "llab"}, "mark": {"type": "text", "fontSize": 13.5, "fontStyle": "italic", "color": "black"},
      "encoding": {"x": {"field": "cx", "type": "quantitative"}, "y": {"field": "cy", "type": "quantitative"}, "text": {"field": "g"}}}
    ]
   },
   {"width": 2, "height": 251, "data": {"values": []}, "mark": "point", "encoding": {},
    "title": {"text": "DEGs of", "anchor": "end", "dx": -4, "offset": 12}},
   {"width": 37, "height": 251, "data": {"values": []}, "mark": "point", "encoding": {},
    "title": {"text": "wspE", "anchor": "start", "fontStyle": "italic", "offset": 12}},
   {"width": 35, "height": 251, "data": {"values": []}, "mark": "point", "encoding": {},
    "title": {"text": "-host specialist", "anchor": "start", "offset": 12}},
   {
    "width": 269, "height": 251,
    "title": {"text": "solid", "fontWeight": "normal", "fontSize": 13.5, "offset": 2},
    "view": {"stroke": "#d8b365", "strokeWidth": 1.5},
    "layer": [
     {"data": {"name": "sgrey"}, "mark": {"type": "circle", "size": 17, "fill": "#dcdcdc", "opacity": 1},
      "encoding": {
       "x": {"field": "x", "type": "quantitative", "scale": {"domain": [-3.36, 5.4], "nice": false, "zero": false}, "axis": {"values": [-2, 0, 2, 4], "title": "log2FC", "grid": true, "labelFontSize": 13, "titlePadding": -1}},
       "y": {"field": "y", "type": "quantitative", "scale": {"domain": [-0.45, 10.45], "nice": false, "zero": false}, "axis": {"values": [0, 2.5, 5, 7.5, 10], "format": ".1f", "title": "-log10(p.adjust)", "grid": true, "labelFontSize": 13, "titlePadding": 0, "titleFontSize": 13}}
      }},
     {"data": {"name": "ssig"}, "mark": {"type": "circle", "size": 26, "fill": "#454545", "stroke": "#111111", "strokeWidth": 0.8, "opacity": 1},
      "encoding": {"x": {"field": "x", "type": "quantitative"}, "y": {"field": "y", "type": "quantitative"}}},
     {"mark": {"type": "rule", "color": "#67a9cf", "strokeWidth": 3, "strokeDash": [22, 11]}, "encoding": {"x": {"datum": -1}}},
     {"mark": {"type": "rule", "color": "#ef8a62", "strokeWidth": 3, "strokeDash": [22, 11]}, "encoding": {"x": {"datum": 1}}},
     {"mark": {"type": "rule", "color": "#808080", "strokeWidth": 3, "strokeDash": [20, 10]}, "encoding": {"y": {"datum": 1.30103}}},
     {"data": {"name": "shit"}, "mark": {"type": "circle", "size": 30, "fill": "#ef8a62", "stroke": "#111111", "strokeWidth": 0.8, "opacity": 1},
      "encoding": {"x": {"field": "x", "type": "quantitative"}, "y": {"field": "y", "type": "quantitative"}}},
     {"data": {"name": "slab"}, "mark": {"type": "rect", "fill": "white", "stroke": "#333333", "strokeWidth": 0.8, "cornerRadius": 2},
      "encoding": {"x": {"field": "x1", "type": "quantitative"}, "x2": {"field": "x2"}, "y": {"field": "y1", "type": "quantitative"}, "y2": {"field": "y2"}}},
     {"data": {"name": "slab"}, "mark": {"type": "text", "fontSize": 13.5, "fontStyle": "italic", "color": "black"},
      "encoding": {"x": {"field": "cx", "type": "quantitative"}, "y": {"field": "cy", "type": "quantitative"}, "text": {"field": "g"}}}
    ]
   }
  ]
 },
 {
  "bounds": "flush",
  "spacing": 0,
  "resolve": {"scale": {"x": "independent", "y": "independent", "color": "independent", "size": "independent"}},
  "hconcat": [
   {"width": 319, "height": 180, "data": {"values": []}, "mark": "point", "encoding": {},
    "title": {"text": "d", "anchor": "start", "fontSize": 24, "fontWeight": "normal", "color": "black", "dx": 1, "offset": 7}},
   {
    "width": 28, "height": 180,
    "title": {"text": "liquid", "fontWeight": "normal", "fontSize": 13.5, "offset": 0},
    "view": {"stroke": "#5ab4ac", "strokeWidth": 1.5},
    "data": {"name": "gseaL"},
    "mark": {"type": "circle", "opacity": 1},
    "encoding": {
     "y": {"field": "term", "type": "nominal", "sort": null, "scale": {"type": "point", "padding": 0.59}, "axis": {"title": "GO description", "labelFontSize": 14, "grid": true, "ticks": true, "tickSize": 3, "tickColor": "#4d4d4d", "labelPadding": 2, "labelLimit": 400, "titlePadding": 97}},
     "x": {"field": "dir", "type": "nominal", "scale": {"type": "point", "domain": ["up", "down"], "padding": 0.58}, "axis": {"title": "transcription", "labelAngle": 45, "labelAlign": "left", "labelBaseline": "middle", "grid": true, "labelFontSize": 13.5, "ticks": true, "tickSize": 3, "tickColor": "#4d4d4d", "titlePadding": -7}},
     "color": {"field": "p", "type": "quantitative", "scale": {"domain": [0.0075, 0.0527], "range": ["#ef8a62", "#67a9cf"], "interpolate": "lab"},
      "legend": {"title": "p.adjust", "values": [0.01, 0.02, 0.03, 0.04, 0.05], "format": ".2f", "gradientLength": 57, "gradientThickness": 12, "direction": "vertical", "offset": 3, "padding": 3, "labelOverlap": false}},
     "size": {"field": "n", "type": "quantitative", "scale": {"domain": [0, 60], "range": [0, 80]},
      "legend": {"title": ["number", "of genes"], "values": [20, 40, 60], "symbolFillColor": "black", "symbolStrokeColor": "black", "symbolStrokeWidth": 0, "offset": 6, "titlePadding": 13, "rowPadding": -2}}
    }
   },
   {"width": 224, "height": 180, "data": {"values": []}, "mark": "point", "encoding": {},
    "title": {"text": "GSEA of the DEG overlap among host specialists", "offset": 15, "dx": -107}},
   {
    "width": 26, "height": 180,
    "title": {"text": "solid", "fontWeight": "normal", "fontSize": 13.5, "offset": 0},
    "view": {"stroke": "#d8b365", "strokeWidth": 1.5},
    "data": {"name": "gseaS"},
    "mark": {"type": "circle", "opacity": 1},
    "encoding": {
     "y": {"field": "term", "type": "nominal", "scale": {"type": "point", "padding": 0.5}, "axis": {"title": "GO description", "labelFontSize": 14, "grid": true, "ticks": true, "tickSize": 3, "tickColor": "#4d4d4d", "labelAlign": "left", "labelPadding": 135, "labelLimit": 400, "titlePadding": 3,
      "labelExpr": "datum.label == 'alginic acid biosynthetic process' ? ['alginic acid', 'biosynthetic process'] : datum.label"}},
     "x": {"field": "dir", "type": "nominal", "scale": {"type": "point", "padding": 0.5}, "axis": {"title": "transcription", "labelAngle": 45, "labelAlign": "left", "labelBaseline": "middle", "grid": true, "labelFontSize": 13.5, "ticks": true, "tickSize": 3, "tickColor": "#4d4d4d", "titlePadding": 5}},
     "color": {"field": "p", "type": "quantitative", "scale": {"domain": [0.0008, 0.001], "range": ["#bc9192", "#bc9192"]},
      "legend": {"title": "p.adjust", "values": [0.0009], "format": ".4f", "gradientLength": 60, "gradientThickness": 13, "direction": "vertical", "offset": 4, "padding": 3}},
     "size": {"field": "n", "type": "quantitative", "scale": {"domain": [0, 5], "range": [0, 50]},
      "legend": {"title": ["number", "of genes"], "values": [5], "symbolFillColor": "black", "symbolStrokeColor": "black", "symbolStrokeWidth": 0, "offset": 7, "titlePadding": 12}}
    }
   },
   {"width": 1, "height": 180, "data": {"values": []}, "mark": "point", "encoding": {},
    "title": {"text": "*gene names according to KEGG Orthology", "orient": "bottom", "anchor": "start", "dx": -597, "offset": 36, "fontSize": 14, "fontWeight": "normal", "color": "black"}}
  ]
 }
]
}
